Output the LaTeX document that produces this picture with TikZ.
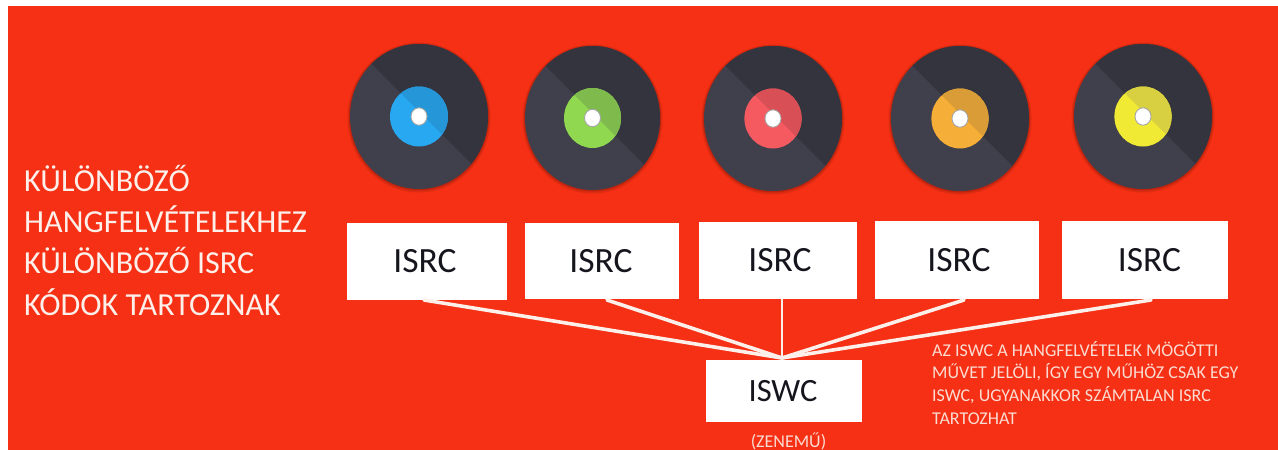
\documentclass[tikz,border=0pt]{standalone}
\usepackage{fontspec}
\setmainfont{Carlito}
\definecolor{bgred}{HTML}{F53014}
\definecolor{vlight}{HTML}{403F4C}
\definecolor{vdark}{HTML}{34343F}
\definecolor{paleA}{HTML}{FDEFEA}
\definecolor{paleB}{HTML}{FBDCD2}
\definecolor{inkc}{HTML}{15151D}
\definecolor{blueL}{HTML}{27A8F0}\definecolor{blueD}{HTML}{2596D8}
\definecolor{greenL}{HTML}{8FD850}\definecolor{greenD}{HTML}{7FBA4D}
\definecolor{redL}{HTML}{F45A5F}\definecolor{redD}{HTML}{D85055}
\definecolor{orangeL}{HTML}{F5AE37}\definecolor{orangeD}{HTML}{D99C36}
\definecolor{yellowL}{HTML}{F0EA35}\definecolor{yellowD}{HTML}{D8D040}
\tikzset{
  boxnode/.style={fill=white,inner sep=0pt,text=inkc,font=\fontsize{35.5}{36}\selectfont},
  link/.style={draw=paleA,line width=3.6pt,line cap=round},
  thinlink/.style={draw=paleA,line width=2.8pt}
}
\begin{document}
\begin{tikzpicture}[x=1pt,y=-1pt]
\useasboundingbox (0,0) rectangle (1278,450);
\fill[bgred] (8,6) rectangle (1278,450);
% discs
\foreach \cx/\cy/\rx/\ry/\lx/\ly/\lc/\dc in {
 419/116.5/69/72.5/29/30/blueL/blueD,
 592.5/118/67.5/72/28.5/30/greenL/greenD,
 773/118.5/69/72.5/28.6/30/redL/redD,
 960/118.5/69/72.5/28.6/30/orangeL/orangeD,
 1143/116.5/69/72.5/28.6/30/yellowL/yellowD}{
 \begin{scope}[shift={(\cx,\cy)}]
  \fill[black,opacity=.10] (0,1) ellipse [x radius=\rx pt+2.5pt,y radius=\ry pt+2.5pt];
  \fill[black,opacity=.14] (0,.5) ellipse [x radius=\rx pt+1pt,y radius=\ry pt+1pt];
  \fill[vlight] (0,0) ellipse [x radius=\rx pt,y radius=\ry pt];
  \begin{scope}
   \clip (0,0) ellipse [x radius=\rx pt,y radius=\ry pt];
   \fill[vdark] (-100,-105) -- (100,95) -- (100,-105) -- cycle;
  \end{scope}
  \fill[\lc] (0,0) ellipse [x radius=\lx pt,y radius=\ly pt];
  \begin{scope}
   \clip (0,0) ellipse [x radius=\lx pt,y radius=\ly pt];
   \fill[\dc] (-100,-105) -- (100,95) -- (100,-105) -- cycle;
  \end{scope}
  \fill[white,draw=black!35,line width=.9pt] (0,0) ellipse [x radius=8pt,y radius=8.7pt];
 \end{scope}
}
% boxes
\node[boxnode,minimum width=160pt,minimum height=77pt] (r1) at (427,261.5) {\kern-4pt ISRC};
\node[boxnode,minimum width=154pt,minimum height=76pt] (r2) at (602,261) {\kern-2pt ISRC};
\node[boxnode,minimum width=158pt,minimum height=77pt] (r3) at (778,260.5) {\kern4pt ISRC};
\node[boxnode,minimum width=164pt,minimum height=78pt] (r4) at (957,260) {\kern4pt ISRC};
\node[boxnode,minimum width=166pt,minimum height=78pt] (r5) at (1145,260) {\kern9pt ISRC};
\node[boxnode,minimum width=156pt,minimum height=62pt,font=\fontsize{32.5}{33}\selectfont] (w) at (784,391) {\kern-2pt ISWC};
% connectors
\coordinate (hub) at (782,358);
\coordinate (a1) at (424,300);
\coordinate (a2) at (607,300);
\coordinate (a3) at (782,299);
\coordinate (a4) at (964,300);
\coordinate (a5) at (1151,300);
\draw[link] (a1) -- (hub);
\draw[link] (a2) -- (hub);
\draw[thinlink] (a3) -- (hub);
\draw[link] (a4) -- (hub);
\draw[link] (a5) -- (hub);
% texts
\node[anchor=north west,inner sep=0pt,align=left,text=paleA,font=\fontsize{32.1}{41.2}\selectfont] (left) at (24,165)
 {KÜLÖNBÖZŐ\\HANGFELVÉTELEKHEZ\\KÜLÖNBÖZŐ ISRC\\KÓDOK TARTOZNAK};
\node[anchor=north west,inner sep=0pt,align=left,text=paleB,font=\fontsize{18}{22.6}\selectfont] (note) at (932,341)
 {AZ ISWC A HANGFELVÉTELEK MÖGÖTTI\\MŰVET JELÖLI, ÍGY EGY MŰHÖZ CSAK EGY\\ISWC, UGYANAKKOR SZÁMTALAN ISRC\\TARTOZHAT};
\node[inner sep=0pt,text=paleB,font=\fontsize{18}{18}\selectfont] (zene) at (788.5,441) {(ZENEMŰ)};
\end{tikzpicture}
\end{document}
